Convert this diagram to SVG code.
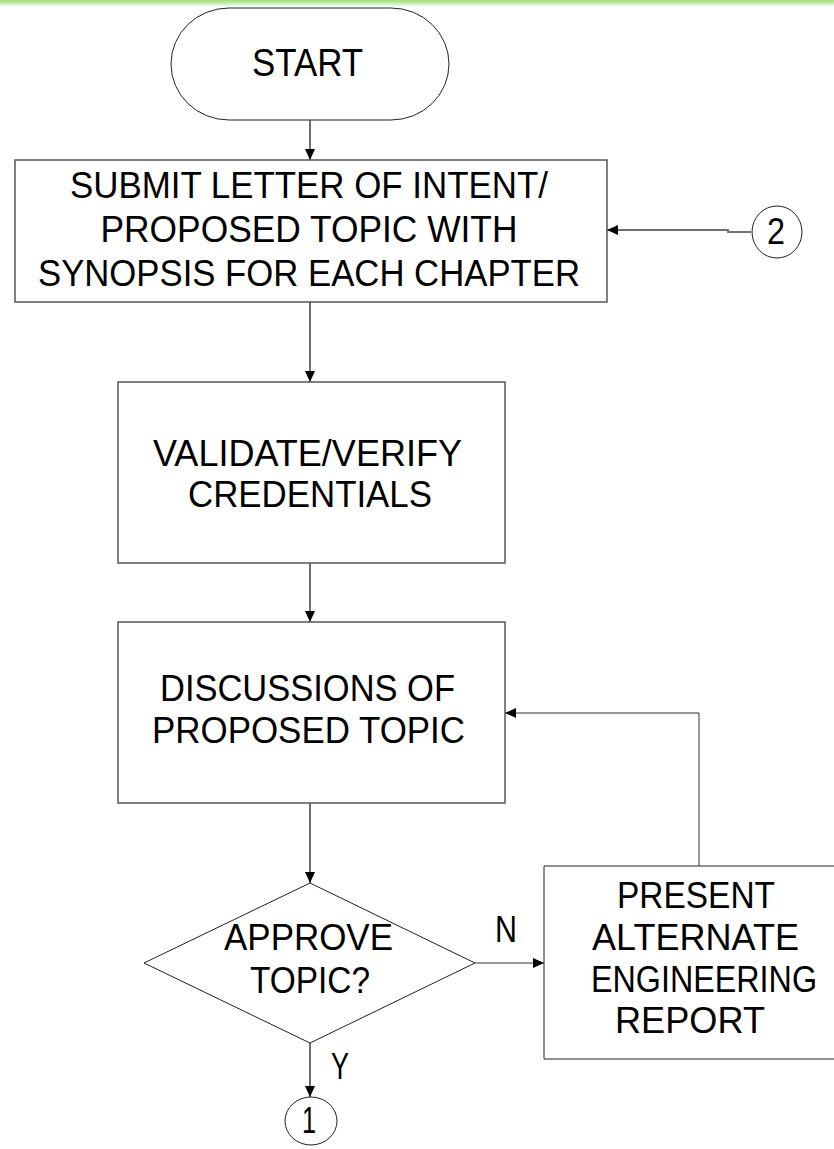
<svg xmlns="http://www.w3.org/2000/svg" width="834" height="1149" viewBox="0 0 834 1149">
  <defs>
    <linearGradient id="band" x1="0" y1="0" x2="0" y2="1">
      <stop offset="0" stop-color="#9edb7a"/>
      <stop offset="1" stop-color="#ffffff"/>
    </linearGradient>
    <marker id="ah" markerUnits="userSpaceOnUse" markerWidth="12" markerHeight="10" refX="11" refY="5" orient="auto">
      <path d="M0,0 L11,5 L0,10 Z" fill="#000"/>
    </marker>
  </defs>
  <style>
    .box { fill: #fff; stroke: #555; stroke-width: 1.5; }
    .thin { fill: #fff; stroke: #222; stroke-width: 1; }
    .t { font-family: "Liberation Sans", Arial, sans-serif; font-size: 36px; fill: #000; text-anchor: middle; }
    .big { font-size: 39px; }
    .conn { fill: none; stroke: #707070; stroke-width: 2; }
    .conn2 { fill: none; stroke: #333; stroke-width: 1; }
  </style>
  <rect x="0" y="0" width="834" height="1149" fill="#fff"/>
  <rect x="0" y="0" width="834" height="7" fill="url(#band)"/>

  <g id="connectors">
    <line class="conn" x1="310" y1="120" x2="310" y2="160" marker-end="url(#ah)"/>
    <polyline class="conn" points="751,232 728,232 728,230 607,230" marker-end="url(#ah)"/>
    <line class="conn" x1="310" y1="302" x2="310" y2="382" marker-end="url(#ah)"/>
    <line class="conn" x1="310" y1="563" x2="310" y2="622" marker-end="url(#ah)"/>
    <line class="conn" x1="310" y1="803" x2="310" y2="883" marker-end="url(#ah)"/>
    <line class="conn2" x1="475" y1="963" x2="544" y2="963" marker-end="url(#ah)"/>
    <polyline class="conn2" points="699,866 699,713 505,713" marker-end="url(#ah)"/>
    <line class="conn" x1="310" y1="1043" x2="310" y2="1097" marker-end="url(#ah)"/>
    <text class="t" x="506" y="942" textLength="22" lengthAdjust="spacingAndGlyphs">N</text>
    <text class="t" x="340" y="1079" textLength="18" lengthAdjust="spacingAndGlyphs">Y</text>
  </g>

  <g id="start">
    <rect class="thin" x="171" y="8" width="278" height="112" rx="58" ry="56"/>
    <text class="t big" x="307.5" y="76" textLength="111" lengthAdjust="spacingAndGlyphs">START</text>
  </g>

  <g id="submit">
    <rect class="box" x="15" y="160" width="592" height="142"/>
    <text class="t" x="309" y="198" textLength="478" lengthAdjust="spacingAndGlyphs">SUBMIT LETTER OF INTENT/</text>
    <text class="t" x="309" y="242" textLength="417" lengthAdjust="spacingAndGlyphs">PROPOSED TOPIC WITH</text>
    <text class="t" x="309" y="286" textLength="542" lengthAdjust="spacingAndGlyphs">SYNOPSIS FOR EACH CHAPTER</text>
  </g>

  <g id="connector2">
    <ellipse class="thin" cx="777" cy="232" rx="25" ry="26"/>
    <text class="t" x="776" y="244" textLength="18" lengthAdjust="spacingAndGlyphs">2</text>
  </g>

  <g id="validate">
    <rect class="box" x="118" y="382" width="387" height="181"/>
    <text class="t" x="307.5" y="466" textLength="309" lengthAdjust="spacingAndGlyphs">VALIDATE/VERIFY</text>
    <text class="t" x="310" y="507" textLength="244" lengthAdjust="spacingAndGlyphs">CREDENTIALS</text>
  </g>

  <g id="discuss">
    <rect class="box" x="118" y="622" width="387" height="181"/>
    <text class="t" x="307.5" y="701" textLength="295" lengthAdjust="spacingAndGlyphs">DISCUSSIONS OF</text>
    <text class="t" x="308.5" y="743" textLength="313" lengthAdjust="spacingAndGlyphs">PROPOSED TOPIC</text>
  </g>

  <g id="approve">
    <polygon class="thin" points="310,883 475,963 310,1043 144,963"/>
    <text class="t" x="308.5" y="950" textLength="169" lengthAdjust="spacingAndGlyphs">APPROVE</text>
    <text class="t" x="310" y="993" textLength="120" lengthAdjust="spacingAndGlyphs">TOPIC?</text>
  </g>

  <g id="alternate">
    <polyline class="thin" points="834,866 544,866 544,1059 834,1059"/>
    <text class="t" x="696" y="908" textLength="158" lengthAdjust="spacingAndGlyphs">PRESENT</text>
    <text class="t" x="695.5" y="950" textLength="207" lengthAdjust="spacingAndGlyphs">ALTERNATE</text>
    <text class="t" x="704" y="992" textLength="226" lengthAdjust="spacingAndGlyphs">ENGINEERING</text>
    <text class="t" x="690" y="1033" textLength="150" lengthAdjust="spacingAndGlyphs">REPORT</text>
  </g>

  <g id="connector1">
    <ellipse class="thin" cx="311" cy="1121" rx="26" ry="24"/>
    <text class="t" x="309" y="1133" textLength="14" lengthAdjust="spacingAndGlyphs">1</text>
  </g>
</svg>
